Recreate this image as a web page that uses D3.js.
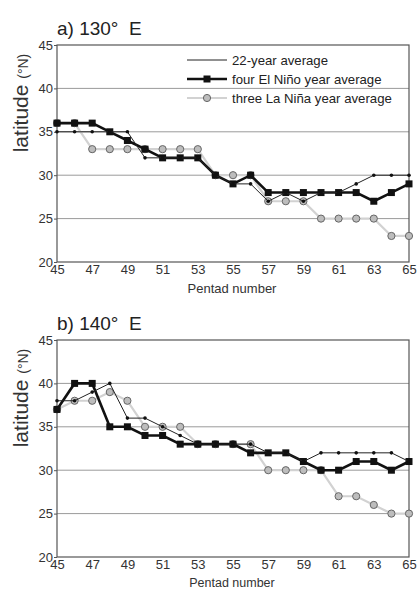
<!DOCTYPE html>
<html>
<head>
<meta charset="utf-8">
<script src="https://cdn.jsdelivr.net/npm/d3@7"></script>
<style>
  body { margin: 0; background: #fff; }
  svg { font-family: "Liberation Sans", Arial, sans-serif; }
</style>
</head>
<body>
<svg width="419" height="590"></svg>
<script>
const width = 419;
const height = 590;

// pentads 45..65
const pentads = d3.range(45, 66);
const xTicks = [45, 47, 49, 51, 53, 55, 57, 59, 61, 63, 65];
const yTicks = [20, 25, 30, 35, 40, 45];

// a) 130 E
const avgA   = [35, 35, 35, 35, 35, 32, 32, 32, 32, 30, 29, 29, 27, 28, 27, 28, 28, 29, 30, 30, 30];
const ninoA  = [36, 36, 36, 35, 34, 33, 32, 32, 32, 30, 29, 30, 28, 28, 28, 28, 28, 28, 27, 28, 29];
const ninaA  = [36, 36, 33, 33, 33, 33, 33, 33, 33, 30, 30, 30, 27, 27, 27, 25, 25, 25, 25, 23, 23];

// b) 140 E
const avgB   = [38, 38, 39, 40, 36, 36, 35, 34, 33, 33, 33, 33, 32, 32, 31, 32, 32, 32, 32, 32, 31];
const ninoB  = [37, 40, 40, 35, 35, 34, 34, 33, 33, 33, 33, 32, 32, 32, 31, 30, 30, 31, 31, 30, 31];
const ninaB  = [37, 38, 38, 39, 38, 35, 35, 35, 33, 33, 33, 33, 30, 30, 30, 30, 27, 27, 26, 25, 25];

const seriesNames = ["22-year average", "four El Niño year average", "three La Niña year average"];

const svg = d3.select("svg");

const x = d3.scaleLinear().domain([45, 65]).range([57, 409]);

function panel(top, title, avg, nino, nina, showLegend, xlabOffset, xlabSize) {
    const y = d3.scaleLinear().domain([20, 45]).range([top + 217, top]);
    const g = svg.append("g");

    // grid
    g.selectAll(".grid")
        .data(yTicks.filter(d => d > 20 && d < 45))
        .enter().append("line")
        .attr("x1", x(45)).attr("x2", x(65))
        .attr("y1", d => y(d)).attr("y2", d => y(d))
        .attr("stroke", "#9a9a9a")
        .attr("stroke-width", 1);

    // frame
    g.append("rect")
        .attr("x", x(45)).attr("y", y(45))
        .attr("width", x(65) - x(45)).attr("height", y(20) - y(45))
        .attr("fill", "none")
        .attr("stroke", "#555")
        .attr("stroke-width", 1.2);

    // y axis
    const yAxis = g.append("g")
        .attr("transform", `translate(${x(45)},0)`)
        .call(d3.axisLeft(y).tickValues(yTicks).tickSize(3).tickPadding(1));
    yAxis.select(".domain").remove();
    yAxis.selectAll("line").attr("stroke", "#555");
    yAxis.selectAll("text").attr("font-size", 13).attr("fill", "#333")
        .attr("font-family", "Liberation Sans, Arial, sans-serif");

    // x axis
    const xAxis = g.append("g")
        .attr("transform", `translate(0,${y(20)})`)
        .call(d3.axisBottom(x).tickValues(xTicks).tickSize(0).tickPadding(3));
    xAxis.select(".domain").remove();
    xAxis.selectAll("text").attr("font-size", 13).attr("fill", "#333")
        .attr("font-family", "Liberation Sans, Arial, sans-serif");

    g.append("text")
        .attr("x", 232).attr("y", y(20) + xlabOffset)
        .attr("text-anchor", "middle")
        .attr("font-size", xlabSize).attr("fill", "#333")
        .text("Pentad number");

    // title
    g.append("text")
        .attr("x", 57).attr("y", top - 10)
        .attr("font-size", 19).attr("fill", "#222")
        .text(title);

    // y label
    const yl = g.append("text")
        .attr("transform", `translate(28,${top + 58}) rotate(-90)`)
        .attr("text-anchor", "middle")
        .attr("fill", "#333");
    yl.append("tspan").attr("font-size", 21).text("latitude ");
    yl.append("tspan").attr("font-size", 14).text("(°N)");

    const line = d3.line()
        .x((d, i) => x(pentads[i]))
        .y(d => y(d));

    // La Nina
    g.append("path").datum(nina)
        .attr("d", line).attr("fill", "none")
        .attr("stroke", "#d2d2d2").attr("stroke-width", 2.2);
    g.selectAll(".nina").data(nina).enter().append("circle")
        .attr("cx", (d, i) => x(pentads[i])).attr("cy", d => y(d))
        .attr("r", 3.6)
        .attr("fill", "#bdbdbd").attr("stroke", "#666").attr("stroke-width", 1);

    // El Nino
    g.append("path").datum(nino)
        .attr("d", line).attr("fill", "none")
        .attr("stroke", "#111").attr("stroke-width", 2.6);
    g.selectAll(".nino").data(nino).enter().append("rect")
        .attr("x", (d, i) => x(pentads[i]) - 3.5).attr("y", d => y(d) - 3.5)
        .attr("width", 7).attr("height", 7)
        .attr("fill", "#111");

    // 22-year average
    g.append("path").datum(avg)
        .attr("d", line).attr("fill", "none")
        .attr("stroke", "#222").attr("stroke-width", 1);
    g.selectAll(".avg").data(avg).enter().append("circle")
        .attr("cx", (d, i) => x(pentads[i])).attr("cy", d => y(d))
        .attr("r", 1.8)
        .attr("fill", "#111");

    if (showLegend) {
        const lg = g.append("g");
        const rows = [top + 15, top + 34, top + 53];
        // thin
        lg.append("line").attr("x1", 187).attr("x2", 227)
            .attr("y1", rows[0]).attr("y2", rows[0])
            .attr("stroke", "#222").attr("stroke-width", 1);
        // thick
        lg.append("line").attr("x1", 187).attr("x2", 227)
            .attr("y1", rows[1]).attr("y2", rows[1])
            .attr("stroke", "#111").attr("stroke-width", 2.6);
        lg.append("rect").attr("x", 207 - 3.5).attr("y", rows[1] - 3.5)
            .attr("width", 7).attr("height", 7).attr("fill", "#111");
        // gray
        lg.append("line").attr("x1", 187).attr("x2", 227)
            .attr("y1", rows[2]).attr("y2", rows[2])
            .attr("stroke", "#d2d2d2").attr("stroke-width", 2.2);
        lg.append("circle").attr("cx", 207).attr("cy", rows[2]).attr("r", 3.6)
            .attr("fill", "#bdbdbd").attr("stroke", "#666");

        lg.selectAll(".lt").data(seriesNames).enter().append("text")
            .attr("x", 232).attr("y", (d, i) => rows[i] + 4.5)
            .attr("font-size", 13.2).attr("fill", "#222")
            .text(d => d);
    }
}

panel(45, "a) 130°\u00a0\u00a0E", avgA, ninoA, ninaA, true, 31, 13);
panel(340, "b) 140°\u00a0\u00a0E", avgB, ninoB, ninaB, false, 30, 12.5);
</script>
</body>
</html>
